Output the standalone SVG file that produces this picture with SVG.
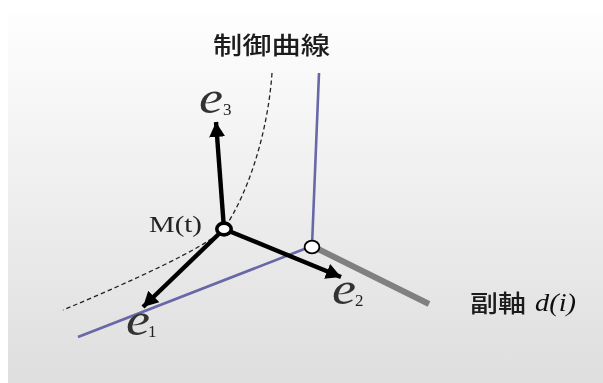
<svg xmlns="http://www.w3.org/2000/svg" width="603" height="383" viewBox="0 0 603 383">
<style>
.cjk{font-family:"Noto Sans CJK JP","Liberation Sans",sans-serif;font-weight:500;fill:#1c1c1c}
.it{font-family:"Liberation Serif",serif;font-style:italic;fill:#111}
.e{font-size:46px;fill:#333}
.sub{font-family:"Liberation Serif",serif;fill:#222;font-size:17px}
.blue{fill:none;stroke:#6767a6;stroke-width:2.6}
.vec{stroke:#000;stroke-width:4.4;fill:none;marker-end:url(#ah)}
.dash{fill:none;stroke:#222;stroke-width:1.3;stroke-dasharray:4.5 3}
.node{fill:#fff;stroke:#000}
</style>
<defs>
<linearGradient id="bg" x1="0" y1="0" x2="0" y2="1"><stop offset="0" stop-color="#fefefe"/><stop offset="1" stop-color="#dedede"/></linearGradient>
<marker id="ah" markerUnits="userSpaceOnUse" markerWidth="16" markerHeight="18" refX="15" refY="9" orient="auto"><path d="M0 1L15 9L0 17z" fill="#000"/></marker>
<filter id="soft" x="-5%" y="-5%" width="110%" height="110%"><feGaussianBlur stdDeviation="0.4"/></filter>
</defs>
<rect width="603" height="383" fill="#fff"/>
<rect x="8" y="12" width="595" height="371" fill="url(#bg)"/>
<g filter="url(#soft)">
<g id="connectors">
<path class="dash" d="M272 73C268 130 250 190 224 229C205 248 130 282 63 310"/>
<path class="blue" d="M319 73L312 246L78 337"/>
<path d="M312 246L429 304" stroke="#808080" stroke-width="6" fill="none"/>
<path class="vec" d="M224 229L216 122"/>
<path class="vec" d="M224 229L143 307"/>
<path class="vec" d="M224 229L341 277"/>
</g>
<g id="node-mt"><ellipse class="node" cx="224" cy="229" rx="7.2" ry="5.9" stroke-width="3.6"/><text x="149" y="232" font-family="Liberation Serif,serif" font-size="23" fill="#222" textLength="53" lengthAdjust="spacingAndGlyphs">M(t)</text></g>
<g id="node-d"><ellipse class="node" cx="312" cy="247" rx="7.4" ry="6.4" stroke-width="1.8"/></g>
<g id="label-curve"><text class="cjk" x="213" y="54" font-size="24" textLength="117" lengthAdjust="spacingAndGlyphs">制御曲線</text></g>
<g id="label-e3"><text class="it e" x="199" y="113" textLength="24" lengthAdjust="spacingAndGlyphs">e</text><text class="sub" x="223" y="115">3</text></g>
<g id="label-e1"><text class="it e" x="126" y="335" textLength="24" lengthAdjust="spacingAndGlyphs">e</text><text class="sub" x="148" y="337">1</text></g>
<g id="label-e2"><text class="it e" x="332" y="304" textLength="24" lengthAdjust="spacingAndGlyphs">e</text><text class="sub" x="355" y="306">2</text></g>
<g id="label-d"><text class="cjk" x="470" y="312" font-size="24" textLength="56" lengthAdjust="spacingAndGlyphs">副軸</text><text class="it" x="535" y="311" font-size="25" textLength="41" lengthAdjust="spacingAndGlyphs">d(i)</text></g>
</g>
</svg>
